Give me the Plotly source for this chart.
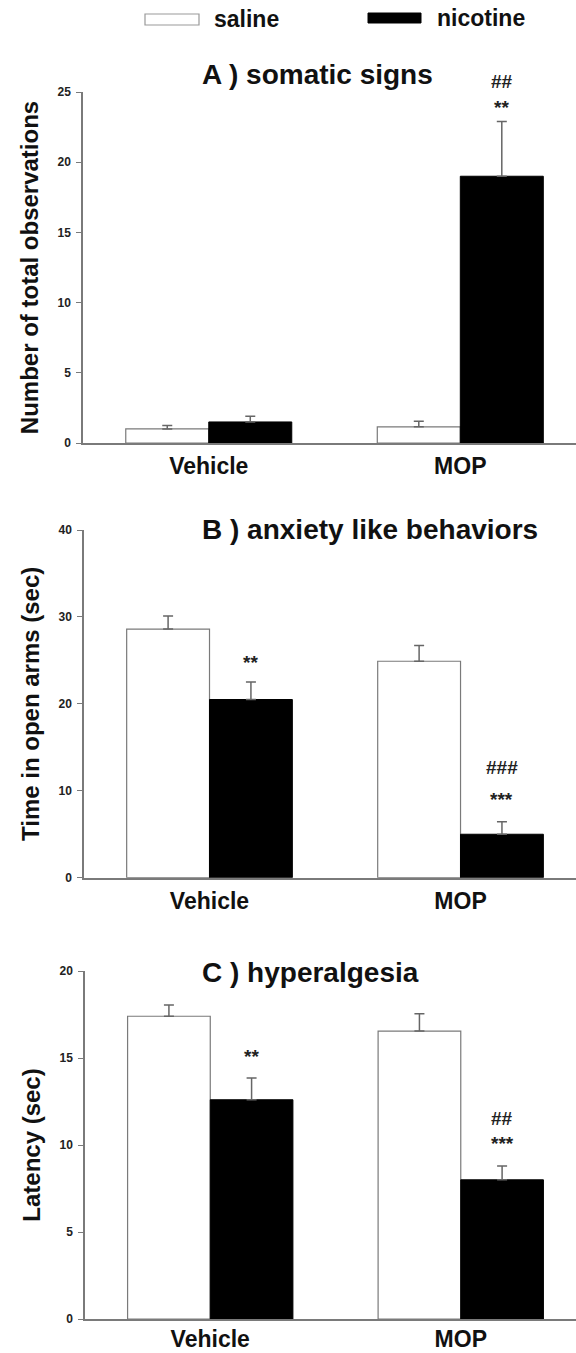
import plotly.graph_objects as go

# ---------------- data ----------------
categories = ["Vehicle", "MOP"]
series_names = ["saline", "nicotine"]

A_saline = [1.0, 1.15]
A_saline_err = [0.25, 0.4]
A_nicotine = [1.5, 19.0]
A_nicotine_err = [0.4, 3.9]
A_stars = ["", "**"]
A_hashes = ["", "##"]

B_saline = [28.6, 24.9]
B_saline_err = [1.5, 1.8]
B_nicotine = [20.5, 5.0]
B_nicotine_err = [2.0, 1.45]
B_stars = ["**", "***"]
B_hashes = ["", "###"]

C_saline = [17.4, 16.55]
C_saline_err = [0.65, 1.0]
C_nicotine = [12.6, 8.0]
C_nicotine_err = [1.25, 0.8]
C_stars = ["**", "***"]
C_hashes = ["", "##"]

panel_titles = ["A ) somatic signs", "B ) anxiety like behaviors", "C ) hyperalgesia"]
y_titles = ["Number of total observations", "Time in open arms (sec)", "Latency (sec)"]
y_max = [25, 40, 20]
y_dtick = [5, 10, 5]

# ---------------- layout helpers ----------------
W, H = 576, 1353
FONT = "Liberation Sans, Arial, Helvetica, sans-serif"
AXCOL = "#7a7a7a"


def px_x(px):
    return px / W


def px_y(py):
    return 1 - py / H


# pixel extents of each panel (top, bottom, left)
panels_px = [(92, 443, 83), (530, 877.7, 84), (971, 1319, 85)]
title_y_px = [74, 529, 972]
xlabel_standoff = [2, 2, -1]
star_shift = [[20, 14], [20, 22], [22, 22]]
hash_shift = [[47, 40], [54, 54], [47, 47]]

panels = [
    (A_saline, A_saline_err, A_nicotine, A_nicotine_err, A_stars, A_hashes),
    (B_saline, B_saline_err, B_nicotine, B_nicotine_err, B_stars, B_hashes),
    (C_saline, C_saline_err, C_nicotine, C_nicotine_err, C_stars, C_hashes),
]

fig = go.Figure()
annotations = []
shapes = []

for i, (sal, sal_err, nic, nic_err, stars, hashes) in enumerate(panels):
    xa = "x" if i == 0 else f"x{i+1}"
    ya = "y" if i == 0 else f"y{i+1}"
    top, bot, left = panels_px[i]
    fig.add_trace(go.Bar(
        x=categories, y=sal, name=series_names[0], xaxis=xa, yaxis=ya,
        marker=dict(color="white", line=dict(color=AXCOL, width=1.2)),
        error_y=dict(type="data", symmetric=False, array=sal_err,
                     arrayminus=[0] * len(sal), color="#666666",
                     thickness=1.5, width=5),
        offsetgroup="s", showlegend=False,
    ))
    fig.add_trace(go.Bar(
        x=categories, y=nic, name=series_names[1], xaxis=xa, yaxis=ya,
        marker=dict(color="black", line=dict(color="black", width=1)),
        error_y=dict(type="data", symmetric=False, array=nic_err,
                     arrayminus=[0] * len(nic), color="#666666",
                     thickness=1.5, width=5),
        offsetgroup="n", showlegend=False,
    ))
    axkey = "" if i == 0 else str(i + 1)
    fig.layout["xaxis" + axkey] = dict(
        domain=[px_x(left), 1], anchor=ya, range=[-0.5, 1.46],
        type="category", showline=True, linecolor=AXCOL, linewidth=1.5,
        ticks="", showgrid=False, zeroline=False, automargin=False,
        tickfont=dict(family=FONT, size=23, color="#111111", weight="bold"),
        ticklabelstandoff=xlabel_standoff[i],
    )
    fig.layout["yaxis" + axkey] = dict(
        domain=[px_y(bot), px_y(top)], anchor=xa, range=[0, y_max[i]],
        tick0=0, dtick=y_dtick[i], showline=True, linecolor=AXCOL,
        linewidth=1.5, ticks="outside", ticklen=5, tickwidth=1.2,
        tickcolor=AXCOL, showgrid=False, zeroline=False, automargin=False,
        tickfont=dict(family=FONT, size=12, color="#222222", weight="bold"),
        ticklabelstandoff=3,
        title=dict(text=y_titles[i], standoff=12,
                   font=dict(family=FONT, size=24, color="#111111", weight="bold")),
    )
    # panel title
    annotations.append(dict(
        text=panel_titles[i], xref="paper", yref="paper",
        x=px_x(200), y=px_y(title_y_px[i]), xanchor="left", yanchor="middle",
        showarrow=False,
        font=dict(family=FONT, size=28, color="#111111", weight="bold"),
    ))
    # significance marks above nicotine bars
    for j, cat in enumerate(categories):
        base = nic[j] + nic_err[j]
        if stars[j]:
            annotations.append(dict(
                text=stars[j], xref=xa, yref=ya, x=j + 0.165, y=base,
                xanchor="center", yanchor="middle", yshift=star_shift[i][j],
                showarrow=False,
                font=dict(family=FONT, size=19, color="#222222", weight="bold"),
            ))
        if hashes[j]:
            annotations.append(dict(
                text=hashes[j], xref=xa, yref=ya, x=j + 0.165, y=base,
                xanchor="center", yanchor="middle", yshift=hash_shift[i][j],
                showarrow=False,
                font=dict(family=FONT, size=19, color="#222222", weight="bold"),
            ))

# legend (drawn manually)
shapes.append(dict(type="rect", xref="paper", yref="paper",
                   x0=px_x(145), x1=px_x(199), y0=px_y(25), y1=px_y(14),
                   fillcolor="white", line=dict(color="#999999", width=1.2)))
shapes.append(dict(type="rect", xref="paper", yref="paper",
                   x0=px_x(368), x1=px_x(421), y0=px_y(23), y1=px_y(13),
                   fillcolor="black", line=dict(color="black", width=1)))
annotations.append(dict(text=series_names[0], xref="paper", yref="paper",
                        x=px_x(212), y=px_y(19), xanchor="left", yanchor="middle",
                        showarrow=False,
                        font=dict(family=FONT, size=23, color="#111111", weight="bold")))
annotations.append(dict(text=series_names[1], xref="paper", yref="paper",
                        x=px_x(435), y=px_y(18), xanchor="left", yanchor="middle",
                        showarrow=False,
                        font=dict(family=FONT, size=23, color="#111111", weight="bold")))

fig.update_layout(
    width=W, height=H, template="none",
    margin=dict(l=0, r=0, t=0, b=0, autoexpand=False),
    paper_bgcolor="white", plot_bgcolor="white",
    barmode="group", bargap=0.34, bargroupgap=0,
    showlegend=False, annotations=annotations, shapes=shapes,
    font=dict(family=FONT),
)

fig.write_html(
    "out.html",
    config={"displayModeBar": False},
    post_script="document.body.style.margin='0';document.body.style.padding='0';",
)
